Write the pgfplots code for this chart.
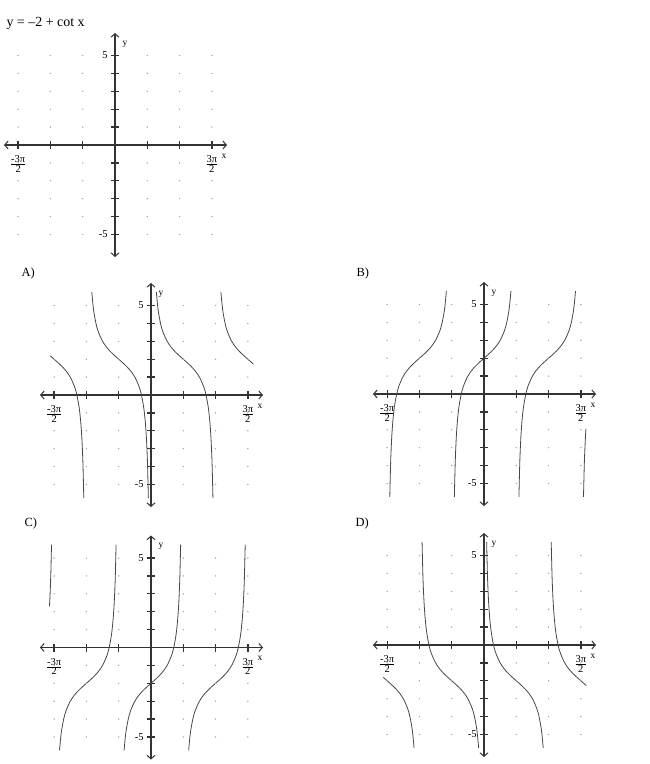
\documentclass[border=0pt]{standalone}
\usepackage{pgfplots}
\pgfplotsset{compat=1.18}
\usepackage{pgfplotstable}
\usetikzlibrary{arrows.meta}
\usepackage{fontspec}
\setmainfont{Liberation Serif}

% dotted background grid, one dot per tick crossing
\pgfplotstableread{
x y
-4.712389 -5
-4.712389 -4
-4.712389 -3
-4.712389 -2
-4.712389 -1
-4.712389 1
-4.712389 2
-4.712389 3
-4.712389 4
-4.712389 5
-3.141593 -5
-3.141593 -4
-3.141593 -3
-3.141593 -2
-3.141593 -1
-3.141593 1
-3.141593 2
-3.141593 3
-3.141593 4
-3.141593 5
-1.570796 -5
-1.570796 -4
-1.570796 -3
-1.570796 -2
-1.570796 -1
-1.570796 1
-1.570796 2
-1.570796 3
-1.570796 4
-1.570796 5
1.570796 -5
1.570796 -4
1.570796 -3
1.570796 -2
1.570796 -1
1.570796 1
1.570796 2
1.570796 3
1.570796 4
1.570796 5
3.141593 -5
3.141593 -4
3.141593 -3
3.141593 -2
3.141593 -1
3.141593 1
3.141593 2
3.141593 3
3.141593 4
3.141593 5
4.712389 -5
4.712389 -4
4.712389 -3
4.712389 -2
4.712389 -1
4.712389 1
4.712389 2
4.712389 3
4.712389 4
4.712389 5
}\griddots

\pgfplotsset{
  panel/.style={
    axis lines=middle,
    scale only axis,
    width=223bp, height=224bp,
    xmin=-5.40, xmax=5.45, ymin=-6.26, ymax=6.26,
    anchor=origin,
    clip=false,
    x axis line style={line width=1.8bp, black!80, {Straight Barb[length=3.5bp,width=8bp,line width=1bp]}-{Straight Barb[length=3.5bp,width=8bp,line width=1bp]}},
    y axis line style={line width=1.8bp, black!80, {Straight Barb[length=3.5bp,width=8bp,line width=1bp]}-{Straight Barb[length=3.5bp,width=8bp,line width=1bp]}},
    xtick={-4.712389,-3.141593,-1.570796,1.570796,3.141593,4.712389},
    xticklabels={{$\frac{\mbox{-3π}}{\mbox{2}}$},{},{},{},{},{$\frac{\mbox{3π}}{\mbox{2}}$}},
    ytick={-5,-4,-3,-2,-1,1,2,3,4,5},
    yticklabels={-5,{},{},{},{},{},{},{},{},5},
    tick align=center,
    major tick length=8bp,
    tick style={line width=1.3bp, black!80},
    tick label style={font=\fontsize{10.5}{11}\selectfont},
    xticklabel style={yshift=-3.5bp},
  },
  dots/.style={only marks, mark=*, mark size=0.45bp, black!35},
  curve/.style={no markers, smooth, line width=0.8bp, black!72},
}

\newcommand{\axisnames}{%
  \node[font=\fontsize{9.5}{9.5}\selectfont] at (axis cs:0.49,5.65) {y};
  \node[font=\fontsize{9.5}{9.5}\selectfont] at (axis cs:5.30,-0.62) {x};
}

\begin{document}
\begin{tikzpicture}
\useasboundingbox (0,0) rectangle (650bp,-764bp);

\node[anchor=base west, font=\fontsize{14}{14}\selectfont] at (3bp,-26bp) {y = –2 + cot x};
\node[anchor=base west, font=\fontsize{12.5}{12.5}\selectfont] at (18bp,-276bp) {A)};
\node[anchor=base west, font=\fontsize{12.5}{12.5}\selectfont] at (353bp,-276bp) {B)};
\node[anchor=base west, font=\fontsize{12.5}{12.5}\selectfont] at (21bp,-526bp) {C)};
\node[anchor=base west, font=\fontsize{12.5}{12.5}\selectfont] at (352bp,-526bp) {D)};

% blank axes for the question
\begin{axis}[panel, at={(115bp,-145bp)}]
\addplot[dots] table {\griddots};
\axisnames
\end{axis}

% A) y = 2 + cot x
\begin{axis}[panel, at={(151bp,-395bp)}]
\addplot[dots] table {\griddots};
\addplot[curve] coordinates {(-4.90,2.19) (-4.7124,2) (-4.5124,1.797) (-4.3124,1.577) (-4.1124,1.316) (-3.9124,0.970) (-3.7124,0.443) (-3.6124,0.035) (-3.5124,-0.572) (-3.4624,-1.010) (-3.4124,-1.602) (-3.3624,-2.455) (-3.3124,-3.798) (-3.2699,-5.75)};
\addplot[curve] coordinates {(-2.8810,5.75) (-2.8208,5.010) (-2.7708,4.572) (-2.6708,3.965) (-2.5708,3.557) (-2.3708,3.030) (-2.1708,2.684) (-1.9708,2.423) (-1.7708,2.203) (-1.5708,2) (-1.3708,1.797) (-1.1708,1.577) (-0.9708,1.316) (-0.7708,0.970) (-0.5708,0.443) (-0.4708,0.035) (-0.3708,-0.572) (-0.3208,-1.010) (-0.2708,-1.602) (-0.2208,-2.455) (-0.1708,-3.798) (-0.1283,-5.75)};
\addplot[curve] coordinates {(0.2606,5.75) (0.3208,5.010) (0.3708,4.572) (0.4708,3.965) (0.5708,3.557) (0.7708,3.030) (0.9708,2.684) (1.1708,2.423) (1.3708,2.203) (1.5708,2) (1.7708,1.797) (1.9708,1.577) (2.1708,1.316) (2.3708,0.970) (2.5708,0.443) (2.6708,0.035) (2.7708,-0.572) (2.8208,-1.010) (2.8708,-1.602) (2.9208,-2.455) (2.9708,-3.798) (3.0133,-5.75)};
\addplot[curve] coordinates {(3.4022,5.75) (3.4624,5.010) (3.5124,4.572) (3.6124,3.965) (3.7124,3.557) (3.9124,3.030) (4.1124,2.684) (4.3124,2.423) (4.5124,2.203) (4.7124,2) (4.98,1.726)};
\axisnames
\end{axis}

% B) y = 2 + tan x
\begin{axis}[panel, at={(484bp,-394bp)}]
\addplot[dots] table {\griddots};
\addplot[curve] coordinates {(-4.5841,-5.75) (-4.5416,-3.798) (-4.4916,-2.455) (-4.4416,-1.602) (-4.3916,-1.010) (-4.3416,-0.572) (-4.2416,0.035) (-4.1416,0.443) (-3.9416,0.970) (-3.7416,1.316) (-3.5416,1.577) (-3.3416,1.797) (-3.1416,2) (-2.9416,2.203) (-2.7416,2.423) (-2.5416,2.684) (-2.3416,3.030) (-2.1416,3.557) (-2.0416,3.965) (-1.9416,4.572) (-1.8916,5.010) (-1.8314,5.75)};
\addplot[curve] coordinates {(-1.4425,-5.75) (-1.40,-3.798) (-1.35,-2.455) (-1.30,-1.602) (-1.25,-1.010) (-1.2,-0.572) (-1.1,0.035) (-1.0,0.443) (-0.8,0.970) (-0.6,1.316) (-0.4,1.577) (-0.2,1.797) (0,2) (0.2,2.203) (0.4,2.423) (0.6,2.684) (0.8,3.030) (1.0,3.557) (1.1,3.965) (1.2,4.572) (1.25,5.010) (1.3102,5.75)};
\addplot[curve] coordinates {(1.6991,-5.75) (1.7416,-3.798) (1.7916,-2.455) (1.8416,-1.602) (1.8916,-1.010) (1.9416,-0.572) (2.0416,0.035) (2.1416,0.443) (2.3416,0.970) (2.5416,1.316) (2.7416,1.577) (2.9416,1.797) (3.1416,2) (3.3416,2.203) (3.5416,2.423) (3.7416,2.684) (3.9416,3.030) (4.1416,3.557) (4.2416,3.965) (4.3416,4.572) (4.3916,5.010) (4.4518,5.75)};
\addplot[curve] coordinates {(4.8407,-5.75) (4.8832,-3.798) (4.9332,-2.455) (4.96,-1.95)};
\axisnames
\end{axis}

% C) y = -2 + tan x
\begin{axis}[panel, at={(151bp,-647.5bp)}]
\addplot[dots] table {\griddots};
\addplot[curve] coordinates {(-4.94,2.3) (-4.92,2.74) (-4.90,3.26) (-4.87,4.3) (-4.8407,5.75)};
\addplot[curve] coordinates {(-4.4518,-5.75) (-4.3916,-5.010) (-4.3416,-4.572) (-4.2416,-3.965) (-4.1416,-3.557) (-3.9416,-3.030) (-3.7416,-2.684) (-3.5416,-2.423) (-3.3416,-2.203) (-3.1416,-2) (-2.9416,-1.797) (-2.7416,-1.577) (-2.5416,-1.316) (-2.3416,-0.970) (-2.1416,-0.443) (-2.0416,-0.035) (-1.9416,0.572) (-1.8916,1.010) (-1.8416,1.602) (-1.7916,2.455) (-1.7416,3.798) (-1.6991,5.75)};
\addplot[curve] coordinates {(-1.3102,-5.75) (-1.25,-5.010) (-1.2,-4.572) (-1.1,-3.965) (-1.0,-3.557) (-0.8,-3.030) (-0.6,-2.684) (-0.4,-2.423) (-0.2,-2.203) (0,-2) (0.2,-1.797) (0.4,-1.577) (0.6,-1.316) (0.8,-0.970) (1.0,-0.443) (1.1,-0.035) (1.2,0.572) (1.25,1.010) (1.30,1.602) (1.35,2.455) (1.40,3.798) (1.4425,5.75)};
\addplot[curve] coordinates {(1.8314,-5.75) (1.8916,-5.010) (1.9416,-4.572) (2.0416,-3.965) (2.1416,-3.557) (2.3416,-3.030) (2.5416,-2.684) (2.7416,-2.423) (2.9416,-2.203) (3.1416,-2) (3.3416,-1.797) (3.5416,-1.577) (3.7416,-1.316) (3.9416,-0.970) (4.1416,-0.443) (4.2416,-0.035) (4.3416,0.572) (4.3916,1.010) (4.4416,1.602) (4.4916,2.455) (4.5416,3.798) (4.5841,5.75)};
\axisnames
\end{axis}

% D) y = -2 + cot x
\begin{axis}[panel, at={(484bp,-645bp)}]
\addplot[dots] table {\griddots};
\addplot[curve] coordinates {(-4.90,-1.81) (-4.7124,-2) (-4.5124,-2.203) (-4.3124,-2.423) (-4.1124,-2.684) (-3.9124,-3.030) (-3.7124,-3.557) (-3.6124,-3.965) (-3.5124,-4.572) (-3.4624,-5.010) (-3.4022,-5.75)};
\addplot[curve] coordinates {(-3.0133,5.75) (-2.9708,3.798) (-2.9208,2.455) (-2.8708,1.602) (-2.8208,1.010) (-2.7708,0.572) (-2.6708,-0.035) (-2.5708,-0.443) (-2.3708,-0.970) (-2.1708,-1.316) (-1.9708,-1.577) (-1.7708,-1.797) (-1.5708,-2) (-1.3708,-2.203) (-1.1708,-2.423) (-0.9708,-2.684) (-0.7708,-3.030) (-0.5708,-3.557) (-0.4708,-3.965) (-0.3708,-4.572) (-0.3208,-5.010) (-0.2606,-5.75)};
\addplot[curve] coordinates {(0.1283,5.75) (0.1708,3.798) (0.2208,2.455) (0.2708,1.602) (0.3208,1.010) (0.3708,0.572) (0.4708,-0.035) (0.5708,-0.443) (0.7708,-0.970) (0.9708,-1.316) (1.1708,-1.577) (1.3708,-1.797) (1.5708,-2) (1.7708,-2.203) (1.9708,-2.423) (2.1708,-2.684) (2.3708,-3.030) (2.5708,-3.557) (2.6708,-3.965) (2.7708,-4.572) (2.8208,-5.010) (2.8810,-5.75)};
\addplot[curve] coordinates {(3.2699,5.75) (3.3124,3.798) (3.3624,2.455) (3.4124,1.602) (3.4624,1.010) (3.5124,0.572) (3.6124,-0.035) (3.7124,-0.443) (3.9124,-0.970) (4.1124,-1.316) (4.3124,-1.577) (4.5124,-1.797) (4.7124,-2) (4.98,-2.274)};
\axisnames
\end{axis}
\end{tikzpicture}
\end{document}
